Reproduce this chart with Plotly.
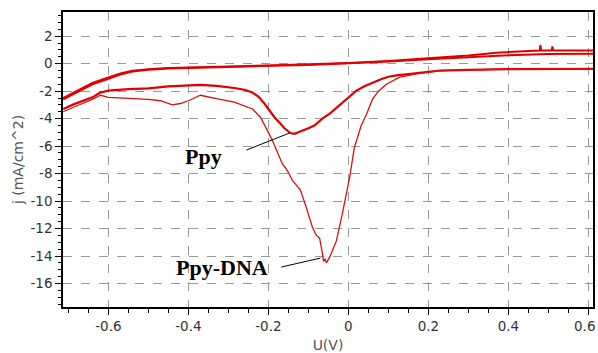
import plotly.graph_objects as go

# ---- data ----
# anodic scans (upper, nearly overlapping)
anodic1_x = [-0.713, -0.69, -0.665, -0.64, -0.6, -0.57, -0.54, -0.5, -0.45, -0.4, -0.3, -0.2, -0.1, 0.0,
             0.1, 0.2, 0.3, 0.37, 0.45, 0.478, 0.48, 0.482, 0.508, 0.51, 0.512, 0.55, 0.612]
anodic1_y = [-2.5, -2.15, -1.75, -1.4, -1.0, -0.72, -0.52, -0.4, -0.32, -0.27, -0.2, -0.13, -0.06, 0.05,
             0.2, 0.38, 0.6, 0.8, 0.93, 0.95, 1.35, 0.95, 0.95, 1.25, 0.95, 0.95, 0.95]
anodic2_x = [-0.713, -0.69, -0.665, -0.64, -0.6, -0.57, -0.54, -0.5, -0.45, -0.4, -0.3, -0.2, -0.1, 0.0,
             0.1, 0.2, 0.3, 0.4, 0.5, 0.612]
anodic2_y = [-2.6, -2.25, -1.85, -1.5, -1.1, -0.8, -0.58, -0.45, -0.36, -0.31, -0.24, -0.16, -0.09, 0.02,
             0.16, 0.33, 0.5, 0.62, 0.7, 0.72]

# cathodic scan, Ppy
ppy_x = [0.612, 0.5, 0.4, 0.3, 0.23, 0.2, 0.17, 0.145, 0.12, 0.1, 0.08, 0.06, 0.04, 0.02, 0.0, -0.022,
         -0.045, -0.065, -0.085, -0.1, -0.12, -0.135, -0.145, -0.16, -0.172, -0.185, -0.2, -0.21, -0.225,
         -0.24, -0.26, -0.285, -0.33, -0.37, -0.41, -0.45, -0.5, -0.55, -0.6, -0.62, -0.64, -0.665, -0.69,
         -0.713]
ppy_y = [-0.38, -0.38, -0.4, -0.45, -0.5, -0.6, -0.72, -0.78, -0.85, -0.95, -1.15, -1.4, -1.65, -1.96,
         -2.45, -3.05, -3.6, -4.0, -4.5, -4.7, -4.9, -5.1, -5.05, -4.7, -4.3, -3.9, -3.3, -2.9, -2.4,
         -2.1, -1.9, -1.77, -1.62, -1.55, -1.6, -1.65, -1.8, -1.85, -1.96, -2.1, -2.45, -2.7, -3.0, -3.3]

# cathodic scan, Ppy-DNA
dna_x = [0.612, 0.5, 0.4, 0.3, 0.23, 0.2, 0.17, 0.127, 0.095, 0.075, 0.06, 0.045, 0.032, 0.015, 0.003,
         -0.015, -0.03, -0.047, -0.055, -0.058, -0.062, -0.065, -0.072, -0.08, -0.09, -0.105, -0.12,
         -0.14, -0.152, -0.165, -0.18, -0.19, -0.2, -0.21, -0.22, -0.24, -0.285, -0.33, -0.37, -0.4,
         -0.42, -0.44, -0.47, -0.5, -0.555, -0.6, -0.62, -0.64, -0.665, -0.69, -0.713]
dna_y = [-0.38, -0.38, -0.4, -0.45, -0.5, -0.62, -0.75, -1.0, -1.5, -2.0, -2.6, -3.7, -4.5, -6.1, -8.3,
         -10.9, -12.9, -14.1, -14.5, -14.2, -14.4, -13.8, -12.7, -12.5, -11.9, -10.5, -9.2,
         -8.5, -7.8, -7.3, -6.2, -5.6, -5.0, -4.4, -3.9, -3.3, -2.8, -2.55, -2.3, -2.7,
         -2.9, -3.0, -2.7, -2.6, -2.5, -2.45, -2.3, -2.6, -2.9, -3.2, -3.5]

x_tickvals = [-0.6, -0.4, -0.2, 0, 0.2, 0.4, 0.6]
x_ticktext = ["-0.6", "-0.4", "-0.2", "0", "0.2", "0.4", "0.6"]
y_tickvals = [2, 0, -2, -4, -6, -8, -10, -12, -14, -16]
y_ticktext = ["2", "0", "-2", "-4", "-6", "-8", "-10", "-12", "-14", "-16"]

labels = ["Ppy", "Ppy-DNA"]
label_pos = [(-0.3625, -6.73), (-0.315, -14.87)]
pointer_from = [(-0.255, -6.29), (-0.1675, -14.8)]
pointer_to = [(-0.1475, -5.05), (-0.07, -14.15)]

RED = "#e00000"
axis_font = dict(family="DejaVu Sans", size=13.5, color="#333")

fig = go.Figure()
fig.add_trace(go.Scatter(x=anodic2_x, y=anodic2_y, mode="lines", line=dict(color=RED, width=2)))
fig.add_trace(go.Scatter(x=anodic1_x, y=anodic1_y, mode="lines", line=dict(color=RED, width=2)))
fig.add_trace(go.Scatter(x=ppy_x, y=ppy_y, mode="lines", line=dict(color=RED, width=2.2)))
fig.add_trace(go.Scatter(x=dna_x, y=dna_y, mode="lines", line=dict(color="#d81010", width=1.3)))

for txt, (tx, ty), (fx, fy), (px, py) in zip(labels, label_pos, pointer_from, pointer_to):
    fig.add_shape(type="line", x0=fx, y0=fy, x1=px, y1=py, xref="x", yref="y",
                  line=dict(color="black", width=1))
    fig.add_annotation(x=tx, y=ty, text="<b>" + txt + "</b>", showarrow=False,
                       font=dict(family="Liberation Serif", size=22, color="black"))

# last x tick label drawn as an annotation nudged inside the page edge
shown_ticktext = x_ticktext[:-1] + [""]
fig.add_annotation(x=x_tickvals[-1], y=0, xref="x", yref="paper", text=x_ticktext[-1],
                   showarrow=False, xanchor="center", yanchor="middle", xshift=-4, yshift=-19,
                   font=axis_font)

fig.update_layout(
    width=598, height=353,
    margin=dict(l=63, r=5, t=12, b=46),
    paper_bgcolor="white", plot_bgcolor="white",
    showlegend=False,
    xaxis=dict(range=[-0.7135, 0.6115], tickvals=x_tickvals, ticktext=shown_ticktext,
               automargin=False, ticklabeloverflow="allow",
               showline=True, linecolor="black", linewidth=1.5, mirror=True,
               ticks="outside", ticklen=6, tickcolor="black",
               showgrid=True, gridcolor="#999", griddash="dash", gridwidth=1,
               zeroline=False, tickfont=axis_font,
               minor=dict(dtick=0.05, tick0=0, ticks="outside", ticklen=4, tickcolor="black", showgrid=False),
               title=dict(text="U(V)", font=dict(family="DejaVu Sans", size=14, color="#555"), standoff=8)),
    yaxis=dict(range=[-17.71, 3.76], tickvals=y_tickvals, ticktext=y_ticktext,
               automargin=False,
               showline=True, linecolor="black", linewidth=1.5, mirror=True,
               ticks="outside", ticklen=6, tickcolor="black",
               showgrid=True, gridcolor="#999", griddash="dash", gridwidth=1,
               zeroline=False, tickfont=axis_font,
               minor=dict(dtick=0.5, tick0=0, ticks="outside", ticklen=3, tickcolor="black", showgrid=False),
               title=dict(text="j (mA/cm^2)", font=dict(family="DejaVu Sans", size=14, color="#555"), standoff=4)),
)

fig.write_html("out.html",
               config={"displayModeBar": False},
               post_script="document.body.style.margin='0px';document.body.style.padding='0px';"
                           "document.body.style.overflow='hidden';")
